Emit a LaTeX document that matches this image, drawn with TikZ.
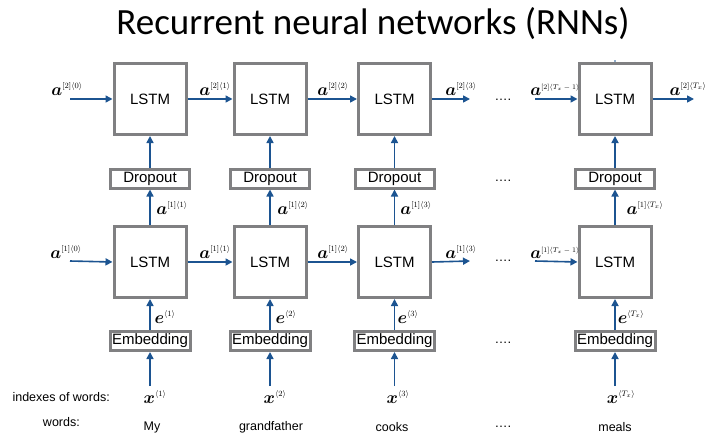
\documentclass[tikz,border=0pt]{standalone}
\usepackage{amsmath}
\usepackage{bm}
\usepackage{fontspec}
\setmainfont{Liberation Sans}
\newfontfamily\titlefont{Carlito}
\usetikzlibrary{arrows.meta}
\definecolor{boxgray}{RGB}{128,128,130}
\definecolor{arrblue}{RGB}{28,84,145}
\newcommand{\sv}[3]{$\bm{#1}^{\mbox{\fontsize{8.5}{9}\selectfont$#2\langle #3\rangle$}}$}
\newcommand{\svs}[3]{$\bm{#1}^{\mbox{\fontsize{7}{8}\selectfont$#2\langle #3\rangle$}}$}
\begin{document}
\begin{tikzpicture}[x=1pt,y=-1pt,
  lstm/.style={draw=boxgray,line width=3pt,minimum width=72pt,minimum height=71pt,inner sep=0pt,font=\fontsize{15}{18}\selectfont},
  thin box/.style={draw=boxgray,line width=3pt,minimum width=79pt,minimum height=19pt,inner sep=0pt,font=\fontsize{15}{18}\selectfont},
  arr/.style={draw=arrblue,line width=1.6pt,-{Triangle[length=7pt,width=7pt]}},
  lab/.style={inner sep=0pt,font=\fontsize{16}{18}\selectfont},
  dots/.style={inner sep=0pt,font=\fontsize{13}{14}\selectfont},
  txt/.style={inner sep=0pt,font=\fontsize{12.5}{14}\selectfont}]
\useasboundingbox (0,0) rectangle (711,434);
% title
\node[inner sep=0pt,font=\titlefont\fontsize{37}{40}\selectfont] (title) at (373,24) {Recurrent neural networks (RNNs)};
% columns
\foreach \i/\cx in {1/150,2/270,3/394.5,4/615}{
  \node[lstm] (t\i) at (\cx,99) {LSTM};
  \node[thin box] (d\i) at (\cx,178.5) {Dropout};
  \node[lstm] (b\i) at (\cx,262) {LSTM};
  \node[thin box,minimum width=80pt] (e\i) at (\cx,341) {Embedding};
  \coordinate (x\i) at (\cx,386);
  \draw[arr] (d\i.north) -- (t\i.south);
  \draw[arr] (b\i.north) -- (d\i.south);
  \draw[arr] (e\i.north) -- (b\i.south);
  \draw[arr] (x\i) -- (e\i.south);
}
% horizontal coordinates
\coordinate (tin) at (70,99);
\coordinate (bin) at (70,261);
\coordinate (tout3) at (470,99);
\coordinate (bout3) at (470,261);
\coordinate (tin4) at (535,99);
\coordinate (bin4) at (535,261);
\coordinate (tout) at (694,99);
% top row
\draw[arr] (tin) -- (t1.west);
\draw[arr] (t1.east) -- (t2.west);
\draw[arr] (t2.east) -- (t3.west);
\draw[arr] (t3.east) -- (tout3);
\draw[arr] (tin4) -- (t4.west);
\draw[arr] (t4.east) -- (tout);
% bottom row
\draw[arr] (bin) -- (b1.west);
\draw[arr] (b1.east) -- (b2.west);
\draw[arr] (b2.east) -- (b3.west);
\draw[arr] (b3.east) -- (bout3);
\draw[arr] (bin4) -- (b4.west);
% small stray dot
\fill[arrblue] (615,61) circle (0.9pt);
% top labels
\node[lab] (la20) at (67,89) {\sv{a}{[2]}{0}};
\node[lab] (la21) at (215,89) {\sv{a}{[2]}{1}};
\node[lab] (la22) at (333,89) {\sv{a}{[2]}{2}};
\node[lab] (la23) at (461,89) {\sv{a}{[2]}{3}};
\node[lab] (la2m) at (555,90) {\svs{a}{[2]}{T_x-1}};
\node[lab] (la2T) at (688,89) {\sv{a}{[2]}{T_x}};
% vertical a[1] labels
\node[lab] (lv1) at (172,208) {\sv{a}{[1]}{1}};
\node[lab] (lv2) at (293,208) {\sv{a}{[1]}{2}};
\node[lab] (lv3) at (416,208) {\sv{a}{[1]}{3}};
\node[lab] (lv4) at (645,208) {\sv{a}{[1]}{T_x}};
% bottom horizontal labels
\node[lab] (la10) at (66,252) {\sv{a}{[1]}{0}};
\node[lab] (la11) at (215,252) {\sv{a}{[1]}{1}};
\node[lab] (la12) at (333,252) {\sv{a}{[1]}{2}};
\node[lab] (la13) at (461,252) {\sv{a}{[1]}{3}};
\node[lab] (la1m) at (555,253) {\svs{a}{[1]}{T_x-1}};
% e labels
\node[lab] (le1) at (165,317) {\sv{e}{}{1}};
\node[lab] (le2) at (286,317) {\sv{e}{}{2}};
\node[lab] (le3) at (408,317) {\sv{e}{}{3}};
\node[lab] (le4) at (631,317) {\sv{e}{}{T_x}};
% x labels
\node[lab] (lx1) at (155,397) {\sv{x}{}{1}};
\node[lab] (lx2) at (275,397) {\sv{x}{}{2}};
\node[lab] (lx3) at (398,397) {\sv{x}{}{3}};
\node[lab] (lx4) at (621,397) {\sv{x}{}{T_x}};
% dots
\node[dots] (dt) at (503,100) {\dots.};
\node[dots] (dd) at (503,181) {\dots.};
\node[dots] (db) at (503,261) {\dots.};
\node[dots] (de) at (503,343) {\dots.};
\node[dots] (dw) at (503,427) {\dots.};
% row captions
\node[txt,anchor=east] (idx) at (110,397) {indexes of words:};
\node[txt,anchor=east] (wds) at (80,422) {words:};
% words
\node[txt] (w1) at (152,427) {My};
\node[txt] (w2) at (271,427) {grandfather};
\node[txt] (w3) at (392,427) {cooks};
\node[txt] (w4) at (615,427) {meals};
\end{tikzpicture}
\end{document}
